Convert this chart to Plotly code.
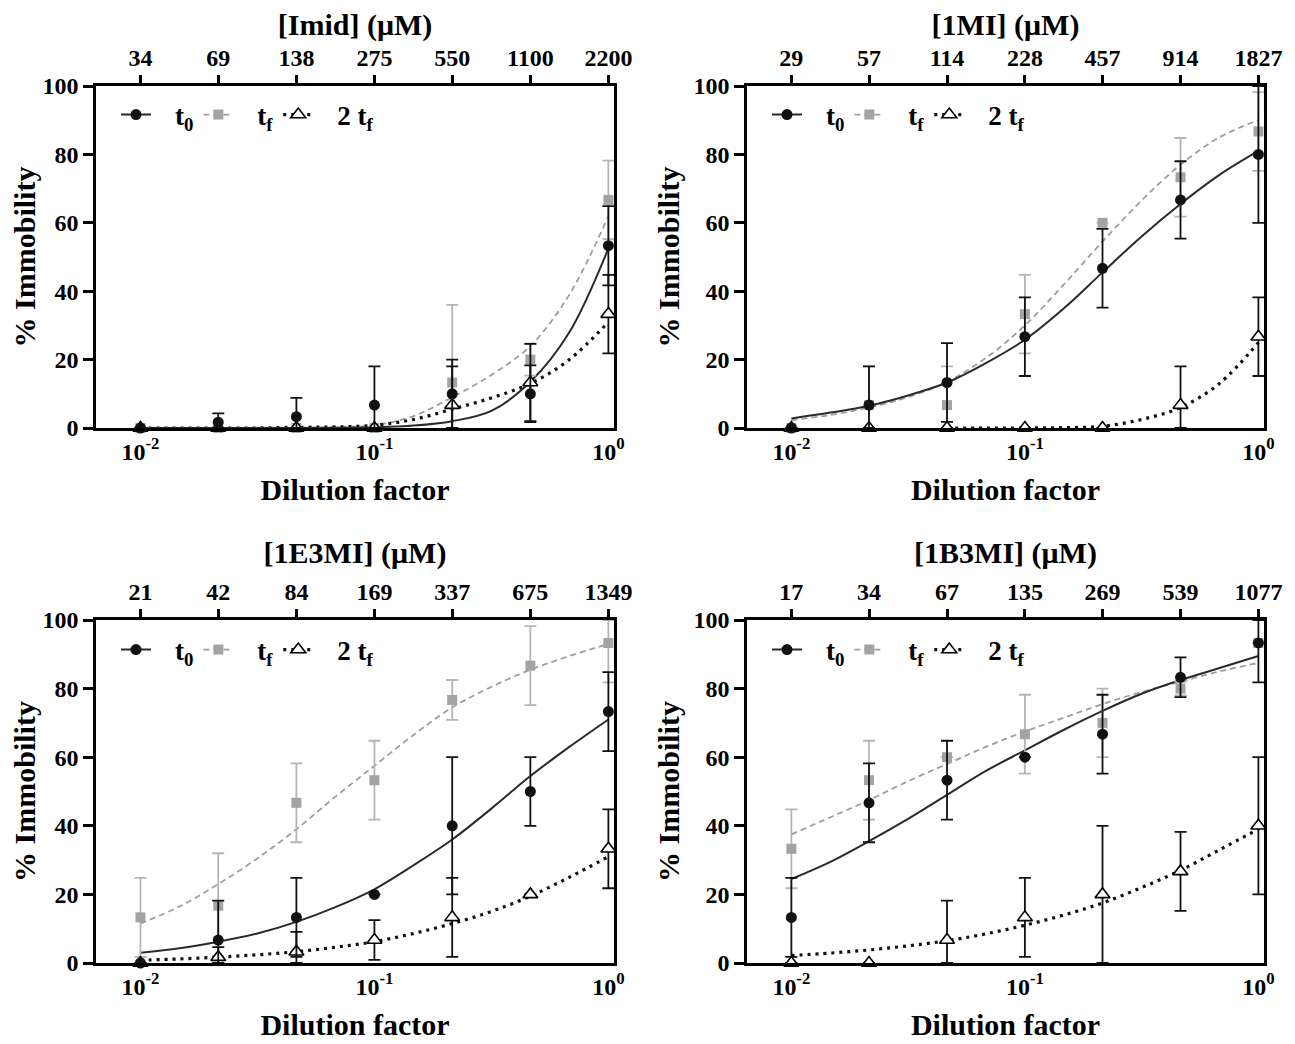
import plotly.graph_objects as go

# ---------------- data ----------------
dilution = [0.01, 0.0215, 0.0464, 0.1, 0.215, 0.464, 1.0]
curve_x = [0.01, 0.0147, 0.0215, 0.0316, 0.0464, 0.0681, 0.1,
           0.147, 0.215, 0.316, 0.464, 0.681, 1.0]

top_titles = ["[Imid] (μM)", "[1MI] (μM)", "[1E3MI] (μM)", "[1B3MI] (μM)"]
conc_imid = ["34", "69", "138", "275", "550", "1100", "2200"]
conc_1mi = ["29", "57", "114", "228", "457", "914", "1827"]
conc_1e3mi = ["21", "42", "84", "169", "337", "675", "1349"]
conc_1b3mi = ["17", "34", "67", "135", "269", "539", "1077"]

# Imid
imid_t0 = [0, 1.7, 3.3, 6.7, 10, 10, 53.3]
imid_t0_err = [0, 2.6, 5.5, 11.3, 10, 8.3, 11.6]
imid_tf = [0, 0, 0, 0, 13.3, 20, 66.7]
imid_tf_err = [0, 0, 0, 0, 22.7, 4.7, 11.5]
imid_2tf = [0, 0, 0, 0, 6.7, 13.3, 33.3]
imid_2tf_err = [0, 0, 0, 0, 11.3, 11.3, 11.5]
imid_fit_t0 = [0, 0, 0, 0, 0, 0.05, 0.2, 0.7, 2, 5, 13.5, 28, 52.5]
imid_fit_tf = [0, 0, 0, 0, 0.1, 0.3, 0.8, 3.5, 9, 15.5, 24, 39, 62]
imid_fit_2tf = [0, 0, 0, 0, 0.2, 0.3, 0.8, 2.5, 5.5, 8.8, 13, 20, 31]

# 1MI
mi_t0 = [0, 6.7, 13.3, 26.7, 46.7, 66.7, 80]
mi_t0_err = [0, 11.3, 11.5, 11.5, 11.5, 11.3, 20]
mi_tf = [0, 6.7, 6.7, 33.3, 60, 73.3, 86.7]
mi_tf_err = [0, 11.3, 11.3, 11.5, 0, 11.5, 11.5]
mi_2tf = [0, 0, 0, 0, 0, 6.7, 26.7]
mi_2tf_err = [0, 0, 0, 0, 0, 11.3, 11.5]
mi_fit_t0 = [2.8, 4.5, 6.5, 9.5, 13.3, 19, 25.8, 35, 45.5, 56, 65.5, 74, 81]
mi_fit_tf = [2.3, 3.8, 6, 9, 13.5, 20.5, 30, 42, 54.5, 66.5, 77, 85, 90]
mi_fit_2tf = [None, None, None, None, 0, 0, 0, 0.1, 0.5, 2.5, 6, 13, 25]

# 1E3MI
e3_t0 = [0, 6.7, 13.3, 20, 40, 50, 73.3]
e3_t0_err = [0, 11.5, 11.5, 0, 20, 10, 11.5]
e3_tf = [13.3, 16.7, 46.7, 53.3, 76.7, 86.7, 93.3]
e3_tf_err = [11.5, 15.3, 11.5, 11.5, 5.8, 11.5, 11.5]
e3_2tf = [0, 1.7, 3.3, 6.7, 13.3, 20, 33.3]
e3_2tf_err = [0, 2.9, 5.8, 5.8, 11.5, 0, 11.5]
e3_fit_t0 = [3, 4.3, 6.2, 8.6, 12, 16.3, 21.5, 28.5, 36, 45, 54.5, 63, 71]
e3_fit_tf = [11.5, 16.5, 23, 30.5, 39, 48.5, 57.5, 66.5, 74.5, 80.5, 85.5, 89.5, 93]
e3_fit_2tf = [0.8, 1.2, 1.7, 2.4, 3.3, 4.6, 6.2, 8.6, 11.5, 15, 19.5, 25, 31]

# 1B3MI
b3_t0 = [13.3, 46.7, 53.3, 60, 66.7, 83.3, 93.3]
b3_t0_err = [11.5, 11.5, 11.5, 0, 11.5, 5.8, 11.5]
b3_tf = [33.3, 53.3, 60, 66.7, 70, 80, 93.3]
b3_tf_err = [11.5, 11.5, 0, 11.5, 10, 2, 0]
b3_2tf = [0, 0, 6.7, 13.3, 20, 26.7, 40]
b3_2tf_err = [0, 0, 11.5, 11.5, 20, 11.5, 20]
b3_fit_t0 = [24.5, 29.5, 35.5, 42, 49, 56, 62, 68, 73.5, 78.5, 82.5, 86, 89.5]
b3_fit_tf = [37.5, 42.5, 47.5, 53, 58, 63, 67.5, 71.5, 75.5, 79, 82, 85, 87.5]
b3_fit_2tf = [2.2, 2.9, 3.8, 5, 6.5, 8.5, 11, 14, 17.5, 22, 27, 33, 39]

legend_names = ["\u2002\u2009t<sub>0</sub>", "\u2002\u2009t<sub>f</sub>", "\u2002\u20092 t<sub>f</sub>"]

panels = [
    dict(title=top_titles[0], conc=conc_imid,
         t0=imid_t0, t0e=imid_t0_err, tf=imid_tf, tfe=imid_tf_err, t2=imid_2tf, t2e=imid_2tf_err,
         f0=imid_fit_t0, ff=imid_fit_tf, f2=imid_fit_2tf),
    dict(title=top_titles[1], conc=conc_1mi,
         t0=mi_t0, t0e=mi_t0_err, tf=mi_tf, tfe=mi_tf_err, t2=mi_2tf, t2e=mi_2tf_err,
         f0=mi_fit_t0, ff=mi_fit_tf, f2=mi_fit_2tf),
    dict(title=top_titles[2], conc=conc_1e3mi,
         t0=e3_t0, t0e=e3_t0_err, tf=e3_tf, tfe=e3_tf_err, t2=e3_2tf, t2e=e3_2tf_err,
         f0=e3_fit_t0, ff=e3_fit_tf, f2=e3_fit_2tf),
    dict(title=top_titles[3], conc=conc_1b3mi,
         t0=b3_t0, t0e=b3_t0_err, tf=b3_tf, tfe=b3_tf_err, t2=b3_2tf, t2e=b3_2tf_err,
         f0=b3_fit_t0, ff=b3_fit_tf, f2=b3_fit_2tf),
]

# ---------------- styling ----------------
W, H = 1295, 1044
FAM = "Liberation Serif"
# pixel boxes (page body has an 8px margin, compensated here)
x_domains = [[88 / W, 606 / W], [739 / W, 1256 / W], [88 / W, 606 / W], [739 / W, 1256 / W]]
y_domains = [[1 - 420 / H, 1 - 78 / H], [1 - 420 / H, 1 - 78 / H],
             [1 - 955 / H, 1 - 612 / H], [1 - 955 / H, 1 - 612 / H]]
legend_y = [1 - 107 / H, 1 - 107 / H, 1 - 642 / H, 1 - 642 / H]
XRANGE = [-2.19, 0.024]

C_T0 = "#111111"
C_TF = "#a3a3a3"
C_TF_ERR = "#b5b5b5"
LINE_T0 = dict(color="#2a2a2a", width=2)
LINE_TF = dict(color="#9e9e9e", width=1.8, dash="6px,4px")
LINE_2TF = dict(color="#111111", width=3.2, dash="3px,5px")
M_T0 = dict(symbol="circle", size=11, color=C_T0)
M_TF = dict(symbol="square", size=10, color=C_TF)
M_2TF = dict(symbol="triangle-up", size=13, color="white", line=dict(color="black", width=1.6))


def clip_err(vals, errs):
    up = [min(e, 100 - v) for v, e in zip(vals, errs)]
    dn = [min(e, v) for v, e in zip(vals, errs)]
    return up, dn


fig = go.Figure()
layout = dict(
    width=W, height=H, autosize=False,
    margin=dict(l=0, r=0, t=0, b=0, pad=0),
    paper_bgcolor="white", plot_bgcolor="white",
    font=dict(family=FAM, color="black"),
)

tickfont = dict(family=FAM, size=24, color="black", weight="bold")
titlefont = dict(family=FAM, size=30, color="black", weight="bold")

for i, p in enumerate(panels):
    n = i + 1
    xa = "x" if n == 1 else f"x{n}"
    ya = "y" if n == 1 else f"y{n}"
    xt = f"x{n + 4}"
    leg = "legend" if n == 1 else f"legend{n}"

    # fitted curves
    fig.add_trace(go.Scatter(x=curve_x, y=p["ff"], mode="lines", line=LINE_TF, line_shape="spline",
                             showlegend=False, xaxis=xa, yaxis=ya, hoverinfo="skip"))
    fig.add_trace(go.Scatter(x=curve_x, y=p["f2"], mode="lines", line=LINE_2TF, line_shape="spline",
                             showlegend=False, xaxis=xa, yaxis=ya, hoverinfo="skip"))
    fig.add_trace(go.Scatter(x=curve_x, y=p["f0"], mode="lines", line=LINE_T0, line_shape="spline",
                             showlegend=False, xaxis=xa, yaxis=ya, hoverinfo="skip"))

    # data points with error bars
    for key, ekey, mk, ecol in [("tf", "tfe", M_TF, C_TF_ERR), ("t2", "t2e", M_2TF, "#111111"),
                                ("t0", "t0e", M_T0, "#111111")]:
        up, dn = clip_err(p[key], p[ekey])
        fig.add_trace(go.Scatter(
            x=dilution, y=p[key], mode="markers", marker=mk, cliponaxis=False,
            error_y=dict(type="data", symmetric=False, array=up, arrayminus=dn,
                         color=ecol, thickness=1.8, width=6),
            showlegend=False, xaxis=xa, yaxis=ya))

    # legend entries (on the top axis)
    for name, ln, mk in zip(legend_names, [LINE_T0, LINE_TF, LINE_2TF], [M_T0, M_TF, M_2TF]):
        fig.add_trace(go.Scatter(x=[None], y=[None], mode="lines+markers", line=ln, marker=mk,
                                 name=name, legend=leg, xaxis=xt, yaxis=ya))

    layout["xaxis" if n == 1 else f"xaxis{n}"] = dict(
        type="log", range=XRANGE, domain=x_domains[i], anchor=ya, automargin=False,
        showline=True, linewidth=2.5, linecolor="black", mirror=False,
        ticks="", tickvals=[0.01, 0.1, 1],
        ticktext=["10<sup>-2</sup>", "10<sup>-1</sup>", "10<sup>0</sup>"],
        tickfont=tickfont, showgrid=False, zeroline=False,
        title=dict(text="Dilution factor", font=titlefont, standoff=16),
    )
    layout[f"xaxis{n + 4}"] = dict(
        type="log", range=XRANGE, overlaying=xa, anchor=ya, side="top", automargin=False,
        showline=True, linewidth=2.5, linecolor="black",
        ticks="outside", ticklen=8, tickwidth=2.5, tickcolor="black",
        tickvals=dilution, ticktext=p["conc"], tickfont=tickfont,
        showgrid=False, zeroline=False,
        title=dict(text=p["title"], font=titlefont, standoff=7),
    )
    layout["yaxis" if n == 1 else f"yaxis{n}"] = dict(
        range=[0, 100], domain=y_domains[i], anchor=xa, automargin=False,
        showline=True, linewidth=2.5, linecolor="black", mirror=True,
        ticks="outside", ticklen=10, tickwidth=2.5, tickcolor="black",
        tickvals=[0, 20, 40, 60, 80, 100], tickfont=tickfont,
        showgrid=False, zeroline=False,
        title=dict(text="% Immobility", font=titlefont, standoff=5),
    )
    layout[leg] = dict(
        x=x_domains[i][0] + 20 / W, y=legend_y[i], xanchor="left", yanchor="middle",
        orientation="h", bgcolor="rgba(0,0,0,0)", borderwidth=0,
        font=dict(family=FAM, size=27, color="black", weight="bold"),
        itemsizing="trace",
    )

fig.update_layout(**layout)
fig.write_html("out.html")
